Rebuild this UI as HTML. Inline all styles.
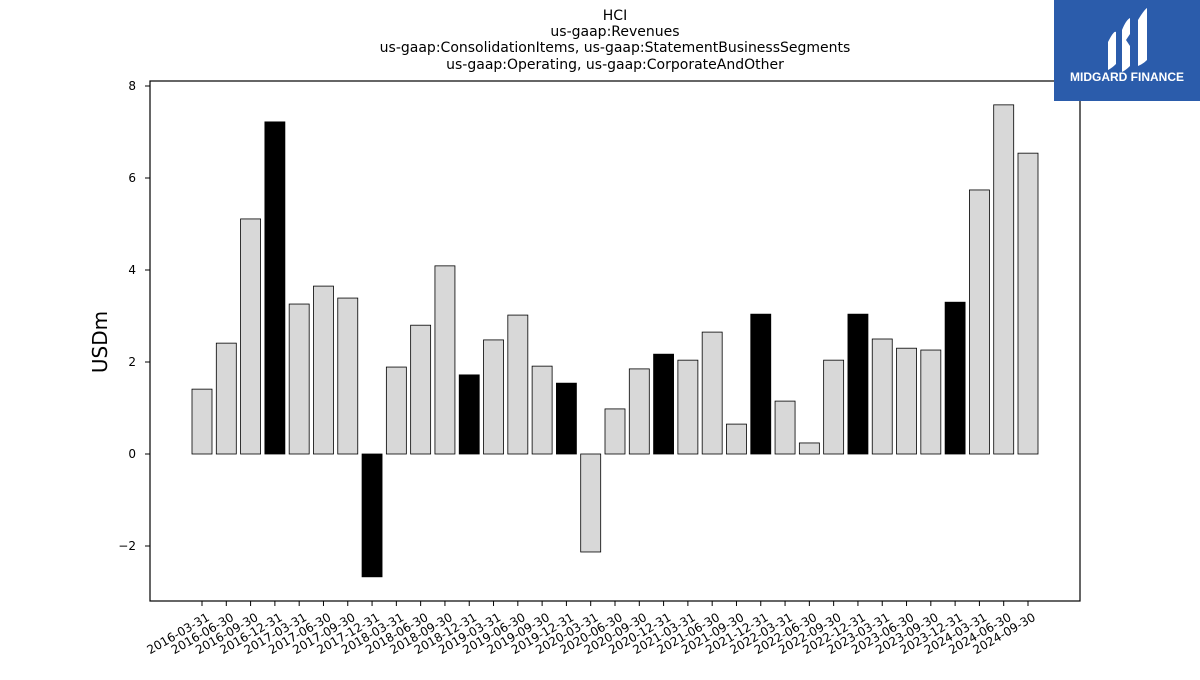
<!DOCTYPE html>
<html><head><meta charset="utf-8"><style>
body{margin:0;background:#fff;width:1200px;height:675px;overflow:hidden;font-family:"Liberation Sans","DejaVu Sans",sans-serif}
</style></head><body>
<svg id="chart" width="1200" height="675" xmlns="http://www.w3.org/2000/svg" font-family="DejaVu Sans, Liberation Sans, sans-serif">
<g font-size="14" text-anchor="middle" fill="#000">
<text x="615" y="20">HCI</text>
<text x="615" y="36">us-gaap:Revenues</text>
<text x="615" y="52">us-gaap:ConsolidationItems, us-gaap:StatementBusinessSegments</text>
<text x="615" y="69">us-gaap:Operating, us-gaap:CorporateAndOther</text>
</g>
<text x="107" y="342" font-size="20" text-anchor="middle" transform="rotate(-90 107 342)">USDm</text>
<g id="bars"></g><g id="yticks"></g><g id="xticks"></g>
<rect x="150" y="81" width="930" height="520" fill="none" stroke="#000" stroke-width="1.2"/>
<g>
<rect x="1054" y="0" width="146" height="101" fill="#2b5cab"/>
<path d="M1108 42 q6-12 8-10 v32 q-4 4-8 6z M1122 30 q4-10 8-12 v16 l-4 6 4 6 v20 q-4 4-8 6z M1138 20 q6-10 9-12 v52 q-4 4-9 6z" fill="#fff"/>
<text x="1127" y="81" font-size="12" font-weight="bold" fill="#fff" text-anchor="middle" font-family="Liberation Sans, sans-serif">MIDGARD FINANCE</text>
</g>
</svg>
<script>
const categories=["2016-03-31","2016-06-30","2016-09-30","2016-12-31","2017-03-31","2017-06-30","2017-09-30","2017-12-31","2018-03-31","2018-06-30","2018-09-30","2018-12-31","2019-03-31","2019-06-30","2019-09-30","2019-12-31","2020-03-31","2020-06-30","2020-09-30","2020-12-31","2021-03-31","2021-06-30","2021-09-30","2021-12-31","2022-03-31","2022-06-30","2022-09-30","2022-12-31","2023-03-31","2023-06-30","2023-09-30","2023-12-31","2024-03-31","2024-06-30","2024-09-30"];
const values=[1.41,2.41,5.11,7.22,3.26,3.65,3.39,-2.67,1.89,2.80,4.09,1.72,2.48,3.02,1.91,1.54,-2.13,0.98,1.85,2.17,2.04,2.65,0.65,3.04,1.15,0.24,2.04,3.04,2.50,2.30,2.26,3.30,5.74,7.59,6.54];
const yTicks=[-2,0,2,4,6,8];
const NS="http://www.w3.org/2000/svg";
const y=v=>454-v*46;
const x=i=>202+i*(1028-202)/34;
const bars=document.getElementById('bars'),yt=document.getElementById('yticks'),xt=document.getElementById('xticks');
function mk(t,a,p){const e=document.createElementNS(NS,t);for(const k in a)e.setAttribute(k,a[k]);p.appendChild(e);return e;}
categories.forEach((c,i)=>{
 const v=values[i];const black=c.endsWith("12-31");
 const r=mk('rect',{x:x(i)-10,y:Math.min(y(v),y(0)),width:20,height:Math.abs(y(v)-y(0)),fill:black?'#000':'#d8d8d8',stroke:'#000','stroke-width':0.8},bars);
 
 
 const tk=mk('line',{x1:x(i),x2:x(i),y1:601,y2:606,stroke:'#000'},xt);
 
 
 const t=mk('text',{x:x(i)+4,y:612,'font-size':12,'text-anchor':'end',transform:`rotate(-30 ${x(i)+4} 612)`,'dominant-baseline':'hanging'},xt);
 t.textContent=c;
 
 
});
yTicks.forEach(v=>{
 const l=mk('line',{x1:145,x2:150,y1:y(v),y2:y(v),stroke:'#000'},yt);
 
 
 const t=mk('text',{x:136,y:y(v)+4,'font-size':12,'text-anchor':'end'},yt);
 t.textContent=v<0?'\u2212'+Math.abs(v):String(v);
 
 
});
</script>
</body></html>
